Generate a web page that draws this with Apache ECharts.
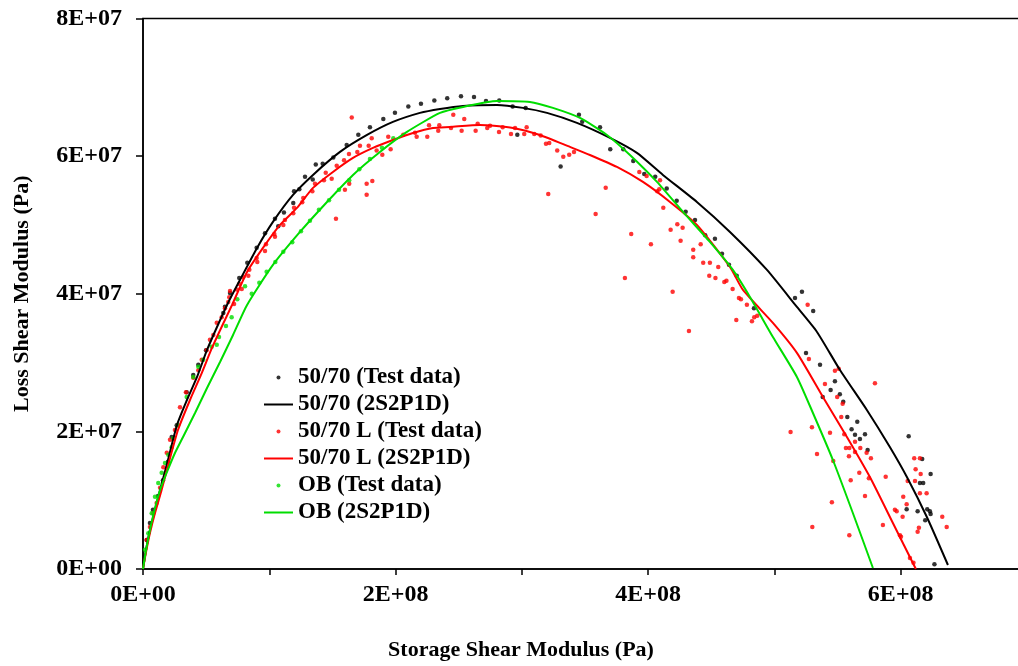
<!DOCTYPE html>
<html>
<head>
<meta charset="utf-8">
<script src="https://cdn.jsdelivr.net/npm/echarts@6/dist/echarts.min.js"></script>
<style>
html,body{margin:0;padding:0;background:#fff;}
#chart{width:1018px;height:666px;}
</style>
</head>
<body>
<div id="chart"></div>
<script>
// Units: x values in 1E+08 Pa, y values in 1E+07 Pa
const X_UNIT = 1e8, Y_UNIT = 1e7;
const seriesNames = ['50/70 (Test data)', '50/70 (2S2P1D)', '50/70 L (Test data)', '50/70 L (2S2P1D)', 'OB (Test data)', 'OB (2S2P1D)'];
const xTicks = ['0E+00', '2E+08', '4E+08', '6E+08'];
const yTicks = ['0E+00', '2E+07', '4E+07', '6E+07', '8E+07'];

const blackTest = [
[0.029,0.42],[0.055,0.67],[0.079,0.86],[0.119,1.06],[0.158,1.29],[0.198,1.56],[0.227,1.92],[0.267,2.09],
[0.346,2.57],[0.398,2.82],[0.438,2.97],[0.499,3.18],[0.636,3.72],[0.649,3.81],[0.689,4.01],[0.762,4.23],
[0.826,4.45],[0.900,4.67],[0.966,4.88],[1.045,5.09],[1.071,4.98],[1.116,5.18],[1.190,5.32],[1.196,5.49],
[1.238,5.52],[1.283,5.70],[1.344,5.66],[1.368,5.88],[1.423,5.89],[1.507,5.98],[1.613,6.16],[1.705,6.31],
[1.797,6.42],[1.903,6.54],[1.995,6.63],[2.101,6.72],[2.201,6.76],[2.307,6.81],[2.409,6.84],[2.518,6.87],
[2.621,6.86],[2.716,6.80],[2.821,6.81],[2.927,6.72],[3.030,6.70],[2.964,6.31],[3.307,5.85],[3.452,6.60],
[3.478,6.50],[3.619,6.42],[3.700,6.10],[3.803,6.10],[3.882,5.93],[3.969,5.74],[4.056,5.70],[4.147,5.53],
[4.226,5.35],[4.297,5.19],[4.371,5.07],[4.452,4.85],[4.529,4.80],[4.585,4.58],[4.640,4.42],[4.701,4.26],
[4.838,3.79],[5.163,3.94],[5.218,4.03],[5.307,3.75],[5.250,3.14],[5.361,2.97],[5.479,2.73],[5.445,2.60],
[5.518,2.54],[5.382,2.50],[5.545,2.43],[5.577,2.21],[5.656,2.14],[5.611,2.03],[5.638,1.95],[5.717,1.96],
[5.677,1.89],[5.738,1.73],[6.063,1.93],[6.170,1.60],[6.237,1.38],[6.152,1.25],[6.178,1.25],[6.047,0.87],
[6.134,0.84],[6.210,0.87],[6.231,0.84],[6.237,0.80],[6.194,0.71],[6.267,0.07]
];

const blackFit = [
[0,0],[0.024,0.276],[0.055,0.567],[0.095,0.858],[0.135,1.148],[0.198,1.584],[0.269,2.093],[0.348,2.456],
[0.428,2.791],[0.507,3.183],[0.586,3.517],[0.673,3.866],[0.768,4.201],[0.903,4.666],[1.029,5.044],[1.188,5.436],
[1.346,5.727],[1.560,6.061],[1.774,6.308],[1.979,6.497],[2.193,6.628],[2.352,6.686],[2.534,6.730],[2.803,6.744],
[3.009,6.701],[3.199,6.628],[3.436,6.483],[3.698,6.265],[3.911,6.047],[4.117,5.727],[4.386,5.334],[4.648,4.898],
[4.941,4.346],[5.178,3.808],[5.337,3.445],[5.519,2.892],[5.732,2.311],[5.914,1.773],[6.049,1.337],[6.207,0.756],
[6.374,0.058]
];

const redTest = [
[0.029,0.42],[0.055,0.61],[0.082,0.81],[0.108,0.96],[0.135,1.18],[0.161,1.48],[0.188,1.69],[0.214,1.88],
[0.253,2.02],[0.293,2.35],[0.340,2.57],[0.398,2.78],[0.438,2.89],[0.465,3.04],[0.504,3.18],[0.530,3.33],
[0.557,3.40],[0.584,3.58],[0.623,3.66],[0.649,3.79],[0.675,3.88],[0.683,3.95],[0.689,4.04],[0.721,3.85],
[0.742,4.06],[0.762,4.14],[0.782,4.07],[0.794,4.24],[0.834,4.26],[0.842,4.35],[0.900,4.52],[0.905,4.46],
[0.966,4.62],[0.974,4.72],[1.040,4.87],[1.045,4.83],[1.111,5.00],[1.124,5.07],[1.190,5.17],[1.196,5.25],
[1.261,5.33],[1.269,5.39],[1.341,5.49],[1.362,5.60],[1.433,5.65],[1.447,5.76],[1.494,5.67],[1.534,5.86],
[1.528,5.09],[1.592,5.94],[1.599,5.51],[1.633,5.60],[1.631,6.03],[1.653,6.56],[1.697,6.06],[1.718,6.15],
[1.771,5.60],[1.771,5.44],[1.816,5.64],[1.787,6.15],[1.811,6.26],[1.850,6.08],[1.895,6.02],[1.942,6.28],
[1.961,6.10],[2.061,6.31],[2.154,6.34],[2.167,6.28],[2.251,6.28],[2.265,6.45],[2.338,6.37],[2.346,6.45],
[2.439,6.41],[2.457,6.60],[2.523,6.37],[2.544,6.54],[2.634,6.37],[2.650,6.47],[2.726,6.41],[2.748,6.44],
[2.819,6.35],[2.848,6.42],[2.914,6.32],[2.946,6.41],[3.019,6.32],[3.038,6.42],[3.098,6.32],[3.149,6.30],
[3.191,6.18],[3.217,6.19],[3.209,5.45],[3.280,6.08],[3.328,5.99],[3.375,6.02],[3.413,6.06],[3.584,5.16],
[3.664,5.54],[3.816,4.23],[3.866,4.87],[3.930,5.77],[3.988,5.71],[4.022,4.72],[4.072,5.49],[4.088,5.52],
[4.094,5.65],[4.120,5.25],[4.178,4.93],[4.194,4.03],[4.231,5.01],[4.257,4.77],[4.273,4.96],[4.323,3.46],
[4.357,4.64],[4.357,4.53],[4.416,4.72],[4.436,4.45],[4.489,4.45],[4.484,4.26],[4.533,4.23],[4.555,4.39],
[4.603,4.17],[4.620,4.19],[4.669,4.07],[4.719,3.94],[4.735,3.92],[4.782,3.84],[4.698,3.62],[4.822,3.60],
[4.840,3.66],[4.864,3.68],[5.263,3.84],[5.273,3.05],[5.479,2.88],[5.509,2.91],[5.400,2.69],[5.497,2.50],
[5.540,2.40],[5.529,2.21],[5.796,2.70],[5.128,1.99],[5.297,2.06],[5.440,1.98],[5.553,1.96],[5.638,1.85],
[5.566,1.76],[5.593,1.76],[5.680,1.76],[5.638,1.70],[5.590,1.64],[5.730,1.69],[5.764,1.61],[5.337,1.67],
[5.466,1.57],[5.672,1.40],[5.604,1.29],[5.748,1.32],[5.881,1.34],[6.107,1.61],[6.152,1.61],[6.118,1.45],
[6.158,1.38],[6.113,1.28],[6.055,1.28],[6.152,1.10],[6.205,1.10],[6.020,1.05],[5.717,1.06],[5.455,0.97],
[5.954,0.86],[5.968,0.84],[6.047,0.94],[6.015,0.76],[6.329,0.76],[6.364,0.61],[5.859,0.64],[6.144,0.60],
[6.134,0.54],[5.994,0.49],[6.002,0.47],[5.300,0.61],[5.593,0.49],[6.073,0.16],[6.101,0.09]
];

const redFit = [
[0,0],[0.024,0.247],[0.055,0.523],[0.095,0.814],[0.143,1.119],[0.206,1.555],[0.277,2.020],[0.372,2.456],
[0.459,2.820],[0.546,3.212],[0.626,3.532],[0.705,3.837],[0.824,4.317],[0.950,4.666],[1.085,5.000],[1.219,5.247],
[1.346,5.538],[1.504,5.770],[1.663,5.974],[1.821,6.119],[1.979,6.235],[2.138,6.337],[2.296,6.410],[2.431,6.424],
[2.668,6.453],[2.930,6.410],[3.143,6.308],[3.381,6.134],[3.539,6.017],[3.753,5.843],[3.959,5.625],[4.173,5.334],
[4.386,5.000],[4.648,4.390],[4.751,4.055],[4.988,3.576],[5.178,3.140],[5.384,2.500],[5.574,1.919],[5.756,1.337],
[5.938,0.669],[6.120,0]
];

const greenTest = [
[0.016,0.28],[0.042,0.52],[0.069,0.81],[0.095,1.05],[0.121,1.25],[0.148,1.40],[0.174,1.54],[0.200,1.66],
[0.227,1.77],[0.240,1.90],[0.277,2.09],[0.346,2.50],[0.398,2.79],[0.438,2.94],[0.477,3.04],[0.544,3.23],
[0.584,3.26],[0.602,3.37],[0.657,3.53],[0.702,3.66],[0.747,3.92],[0.808,4.11],[0.861,4.00],[0.921,4.16],
[0.979,4.32],[1.048,4.46],[1.111,4.61],[1.182,4.75],[1.251,4.91],[1.322,5.06],[1.393,5.22],[1.473,5.36],
[1.552,5.51],[1.633,5.65],[1.713,5.81],[1.797,5.96],[1.892,6.12],[1.982,6.26]
];

const greenFit = [
[0,0],[0.024,0.276],[0.055,0.567],[0.095,0.887],[0.135,1.148],[0.190,1.410],[0.253,1.686],[0.317,1.919],
[0.412,2.267],[0.507,2.631],[0.610,3.009],[0.713,3.401],[0.824,3.837],[1.029,4.419],[1.243,4.898],[1.457,5.334],
[1.663,5.727],[1.876,6.061],[2.090,6.352],[2.352,6.628],[2.534,6.715],[2.803,6.802],[3.064,6.788],[3.246,6.701],
[3.460,6.555],[3.674,6.308],[3.856,6.017],[4.070,5.625],[4.276,5.189],[4.489,4.753],[4.671,4.346],[4.806,3.953],
[4.988,3.372],[5.178,2.791],[5.305,2.267],[5.463,1.584],[5.621,0.814],[5.780,0.015]
];

const BLACK = '#000000', RED = '#ff0000', GREEN = '#00dd00';
const FONT = '"Liberation Serif", "Times New Roman", serif';
const LINE_ICON = 'path://M0,0L0,0M0,1L29,1L29,3L0,3ZM0,4L0,4';

function toPa(arr){ return arr.map(p => [p[0]*X_UNIT, p[1]*Y_UNIT]); }
function sci(v){
  if (Math.abs(v) < 1) return '0E+00';
  const e = Math.floor(Math.log10(Math.abs(v)) + 1e-9);
  const m = Math.round(v / Math.pow(10, e));
  return m + 'E+' + String(e).padStart(2, '0');
}

function scatter(name, data, color){
  return { name, type:'scatter', data: toPa(data), symbol:'circle', symbolSize:4.5,
    itemStyle:{color}, emphasis:{disabled:true}, silent:true };
}
function line(name, data, color){
  return { name, type:'line', data: toPa(data), showSymbol:false, symbol:'none', smooth:0.2,
    lineStyle:{color, width:2}, itemStyle:{color}, emphasis:{disabled:true}, silent:true };
}

const chart = echarts.init(document.getElementById('chart'), null, {renderer:'canvas'});
chart.setOption({
  animation:false,
  backgroundColor:'#fff',
  grid:{left:143, top:18.5, right:-9, bottom:97, show:true, borderColor:'#000', borderWidth:1.5,
    containLabel:false, outerBoundsMode:'none'},
  legend:{
    left:259, top:359, orient:'vertical', itemWidth:29, itemHeight:4, itemGap:0,
    textStyle:{fontFamily:FONT, fontWeight:'bold', fontSize:23, color:'#000', lineHeight:27},
    data: seriesNames.map((n,i) => ({name:n, icon: i%2===0 ? 'circle' : LINE_ICON})),
    selectedMode:false
  },
  xAxis:{
    type:'value', min:0, max:7e8, interval:1e8,
    name:'Storage Shear Modulus (Pa)', nameLocation:'middle', nameGap:70,
    nameTextStyle:{fontFamily:FONT, fontWeight:'bold', fontSize:22, color:'#000', padding:[0,128,0,0]},
    axisLine:{show:true, onZero:false, lineStyle:{color:'#000', width:1.5}},
    axisTick:{show:true, inside:false, length:6, lineStyle:{color:'#000', width:1.5}},
    axisLabel:{fontFamily:FONT, fontWeight:'bold', fontSize:24, color:'#000', margin:14,
      formatter: v => (Math.round(v/1e8) % 2 === 0 ? xTicks[Math.round(v/2e8)] || sci(v) : '')},
    splitLine:{show:false}
  },
  yAxis:{
    type:'value', min:0, max:8e7, interval:2e7,
    name:'Loss Shear Modulus (Pa)', nameLocation:'middle', nameGap:110,
    nameTextStyle:{fontFamily:FONT, fontWeight:'bold', fontSize:22, color:'#000'},
    axisLine:{show:true, onZero:false, lineStyle:{color:'#000', width:1.5}},
    axisTick:{show:true, inside:false, length:7, lineStyle:{color:'#000', width:1.5}},
    axisLabel:{fontFamily:FONT, fontWeight:'bold', fontSize:24, color:'#000', margin:21,
      formatter: v => yTicks[Math.round(v/2e7)] || sci(v)},
    splitLine:{show:false}
  },
  series:[
    scatter(seriesNames[0], blackTest, BLACK),
    line(seriesNames[1], blackFit, BLACK),
    scatter(seriesNames[2], redTest, RED),
    line(seriesNames[3], redFit, RED),
    scatter(seriesNames[4], greenTest, GREEN),
    line(seriesNames[5], greenFit, GREEN)
  ]
});
</script>
</body>
</html>
